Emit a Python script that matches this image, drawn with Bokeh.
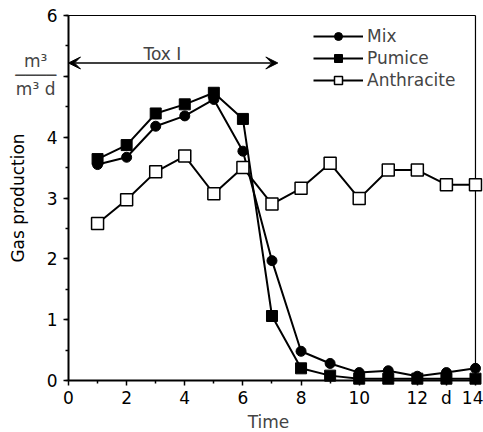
from bokeh.plotting import figure
from bokeh.models import (Range1d, FixedTicker, SingleIntervalTicker, Label, Arrow, VeeHead)
from bokeh.embed import file_html
from bokeh.resources import INLINE

# ---- data ----
days = [1, 2, 3, 4, 5, 6, 7, 8, 9, 10, 11, 12, 13, 14]
mix = [3.55, 3.67, 4.18, 4.35, 4.62, 3.77, 1.97, 0.48, 0.28, 0.13, 0.16, 0.07, 0.13, 0.20]
pumice = [3.64, 3.87, 4.39, 4.54, 4.73, 4.30, 1.06, 0.20, 0.08, 0.03, 0.03, 0.03, 0.03, 0.03]
anthracite = [2.58, 2.97, 3.43, 3.69, 3.07, 3.50, 2.90, 3.16, 3.57, 2.99, 3.46, 3.46, 3.22, 3.22]

x_major_ticks = [0, 2, 4, 6, 8, 10, 12, 13, 14]
x_minor_ticks = [1, 3, 5, 7, 9, 11]
x_tick_overrides = {13: "d"}
y_tick_overrides = {5: ""}
x_max = 14
y_max = 6
tox_start, tox_end, tox_level = 0, 7.2, 5.22

FONT = "DejaVu Sans"
FS = "17px"

p = figure(width=483, height=432,
           x_range=Range1d(-2.339, 14.276), y_range=Range1d(-0.855, 6.247),
           output_backend="svg", toolbar_location=None,
           min_border=0,
           background_fill_color="white", border_fill_color="white")
p.outline_line_color = None
p.xgrid.visible = False
p.ygrid.visible = False

# axes (fixed at the data origin, inside the drawing area)
p.xaxis.fixed_location = 0
p.yaxis.fixed_location = 0
p.xaxis.bounds = (0, x_max)
p.yaxis.bounds = (0, y_max)
p.xaxis.ticker = FixedTicker(ticks=x_major_ticks, minor_ticks=x_minor_ticks)
p.xaxis.major_label_overrides = x_tick_overrides
p.yaxis.ticker = SingleIntervalTicker(interval=1, num_minor_ticks=2)
p.yaxis.major_label_overrides = y_tick_overrides
for ax in (p.xaxis, p.yaxis):
    ax.axis_line_width = 2
    ax.axis_line_color = "black"
    ax.major_tick_line_width = 1.5
    ax.major_tick_line_color = "black"
    ax.minor_tick_line_width = 1.5
    ax.minor_tick_line_color = "black"
    ax.major_tick_in = 0
    ax.major_tick_out = 5
    ax.minor_tick_in = 0
    ax.minor_tick_out = 3
    ax.major_label_text_font = FONT
    ax.major_label_text_font_size = FS
    ax.major_label_text_color = "black"
p.xaxis.major_label_standoff = 3
p.yaxis.major_label_standoff = 6
p.yaxis.axis_label = "Gas production"
p.yaxis.axis_label_text_font = FONT
p.yaxis.axis_label_text_font_size = FS
p.yaxis.axis_label_text_font_style = "normal"
p.yaxis.axis_label_text_color = "black"
p.yaxis.axis_label_standoff = 16

# frame top/right border
p.segment(x0=[0, x_max], y0=[y_max, y_max], x1=[x_max, x_max], y1=[y_max, 0],
          line_color="black", line_width=1.2)

# series
p.line(days, anthracite, line_color="black", line_width=2, legend_label="Anthracite")
p.line(days, mix, line_color="black", line_width=2, legend_label="Mix")
p.line(days, pumice, line_color="black", line_width=2, legend_label="Pumice")
p.scatter(days, anthracite, marker="square", size=12, fill_color="white",
          line_color="black", line_width=1.5, legend_label="Anthracite")
p.scatter(days, mix, marker="circle", size=10, fill_color="black",
          line_color="black", legend_label="Mix")
p.scatter(days, pumice, marker="square", size=11, fill_color="black",
          line_color="black", legend_label="Pumice")

leg = p.legend[0]
order = {"Mix": 0, "Pumice": 1, "Anthracite": 2}
leg.items = sorted(leg.items, key=lambda it: order[it.label.value])
leg.location = (313, 342)
leg.border_line_color = None
leg.background_fill_alpha = 0
leg.label_text_font = FONT
leg.label_text_font_size = FS
leg.glyph_width = 50
leg.glyph_height = 20
leg.label_height = 20
leg.spacing = 2
leg.padding = 0
leg.margin = 0
leg.label_standoff = 4

# Tox I arrow
p.add_layout(Arrow(start=VeeHead(size=12, fill_color="black", line_color="black"),
                   end=VeeHead(size=12, fill_color="black", line_color="black"),
                   x_start=tox_start, y_start=tox_level, x_end=tox_end, y_end=tox_level,
                   line_width=1.5, line_color="black"))
p.add_layout(Label(x=3.23, y=5.37, text="Tox I", text_align="center",
                   text_baseline="alphabetic", text_font=FONT, text_font_size=FS))

# unit fraction
p.add_layout(Label(x=-1.13, y=5.25, text="m³", text_align="center", text_baseline="middle",
                   text_font=FONT, text_font_size=FS))
p.add_layout(Label(x=-1.13, y=5.03, text="────", text_align="center", text_baseline="middle",
                   text_font=FONT, text_font_size=FS))
p.add_layout(Label(x=-1.13, y=4.80, text="m³ d", text_align="center", text_baseline="middle",
                   text_font=FONT, text_font_size=FS))

# x-axis title
p.add_layout(Label(x=6.88, y=-0.69, text="Time", text_align="center", text_baseline="middle",
                   text_font=FONT, text_font_size=FS))

open("out.html", "w").write(file_html(p, INLINE))
